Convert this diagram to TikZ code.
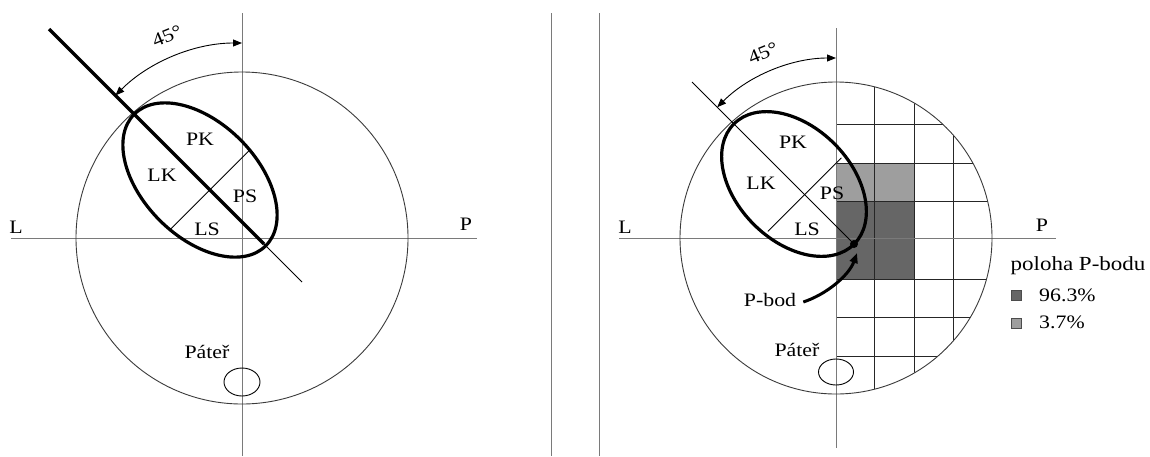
\documentclass[tikz,border=0pt]{standalone}
\usepackage{fontspec}
\setmainfont{Liberation Serif}[FakeStretch=1.15]
\usetikzlibrary{arrows.meta}
\definecolor{axgrey}{HTML}{7A7A7A}
\definecolor{rimgrey}{HTML}{3A3A3A}
\definecolor{cellhi}{HTML}{666666}
\definecolor{celllo}{HTML}{9E9E9E}
\tikzset{
  >=Triangle,
  lbl/.style={font=\fontsize{19}{22}\selectfont,inner sep=0pt},
  axisline/.style={draw=axgrey,line width=1pt},
  rimline/.style={draw=rimgrey,line width=0.9pt},
  boldline/.style={draw=black,line width=3.2pt},
  thinline/.style={draw=black,line width=0.9pt},
  gridline/.style={draw=black!85,line width=0.9pt},
  anglearc/.style={<->,>={Triangle[length=9pt,width=7pt]},draw=black,line width=0.9pt},
  pointer/.style={->,>={Triangle[length=10pt,width=8pt]},draw=black,line width=3pt},
  swatch/.style={draw=black!70,line width=0.6pt,minimum size=10pt,inner sep=0pt},
}

\begin{document}
\begin{tikzpicture}[x=1pt,y=-1pt]
  \useasboundingbox (0,0) rectangle (1150,456);

  % left cut: kidney axis at 45 degrees
  \draw[axisline] (242,13) -- (242,456);
  \draw[axisline] (11,238) -- (477,238);
  \draw[rimline] (242,238) circle[radius=166];
  \draw[boldline] (49,29) -- (264,244);
  \draw[thinline] (264,244) -- (302,282);
  \begin{scope}[shift={(200,180)},rotate=-45]
    \draw[boldline] (0,0) ellipse[x radius=93,y radius=57];
    \draw[thinline] (14,-55) -- (14,55);
  \end{scope}
  \draw[anglearc] (242,222) ++(-135:179) arc[start angle=-135,end angle=-90,radius=179];
  \node[lbl,rotate=22.5] (degL) at (167,36) {45°};

  \node[lbl] (sideL) at (16,227) {L};
  \node[lbl] (sideP) at (466,224) {P};
  \node[lbl] (pkL) at (200,139) {PK};
  \node[lbl] (lkL) at (162,175) {LK};
  \node[lbl] (psL) at (245,196) {PS};
  \node[lbl] (lsL) at (207,229) {LS};
  \draw[thinline] (242,382) ellipse[x radius=18,y radius=14];
  \node[lbl] (spineL) at (207,352) {Páteř};

  % divider
  \draw[axisline] (551,13) -- (551,456);
  \draw[axisline] (599,13) -- (599,456);

  % right cut: grid of P-point positions, clipped to the body outline
  \begin{scope}
    \clip (836,238) circle[radius=156];
    \fill[celllo] (836,163) rectangle (914,201);
    \fill[cellhi] (836,201) rectangle (914,279);
    \foreach \gx in {874,914,953}
      \draw[gridline] (\gx,82) -- (\gx,394);
    \foreach \gy in {124,163,201,279,317,356}
      \draw[gridline] (836,\gy) -- (992,\gy);
  \end{scope}
  \draw[axisline] (836,28) -- (836,448);
  \draw[axisline] (619,238) -- (1056,238);
  \draw[rimline] (836,238) circle[radius=156];
  \draw[thinline] (692,82) -- (854,244);
  \begin{scope}[shift={(794,184)},rotate=-45]
    \draw[boldline] (0,0) ellipse[x radius=85,y radius=57];
    \draw[thinline] (15,-52) -- (15,52);
  \end{scope}
  \coordinate (pdot) at (854,244);
  \coordinate (ptip) at (857,253);
  \fill (pdot) circle[radius=4];
  \draw[anglearc] (836,226) ++(-135:168) arc[start angle=-135,end angle=-90,radius=168];
  \node[lbl,rotate=22.5] (degR) at (763,53) {45°};

  \node[lbl] (sideLR) at (625,227) {L};
  \node[lbl] (sidePR) at (1042,225) {P};
  \node[lbl] (pkR) at (793,142) {PK};
  \node[lbl] (lkR) at (761,183) {LK};
  \node[lbl] (psR) at (832,193) {PS};
  \node[lbl] (lsR) at (807,229) {LS};
  \draw[thinline] (836,372) ellipse[x radius=17.5,y radius=13];
  \node[lbl] (spineR) at (797,350) {Páteř};

  \node[lbl] (pbod) at (770,300) {P-bod};
  \draw[pointer] ([xshift=7pt,yshift=-2pt]pbod.east) .. controls +(24,-8) and +(-8,22) .. (ptip);

  % legend
  \node[lbl,font=\fontsize{20}{23}\selectfont] (legtitle) at (1078,266) {poloha P-bodu};
  \node[swatch,fill=cellhi] (swhi) at (1016,295) {};
  \node[swatch,fill=celllo] (swlo) at (1016,323) {};
  \node[lbl,anchor=west] (pcthi) at (1039,295) {96.3\%};
  \node[lbl,anchor=west] (pctlo) at (1039,322) {3.7\%};
\end{tikzpicture}
\end{document}
